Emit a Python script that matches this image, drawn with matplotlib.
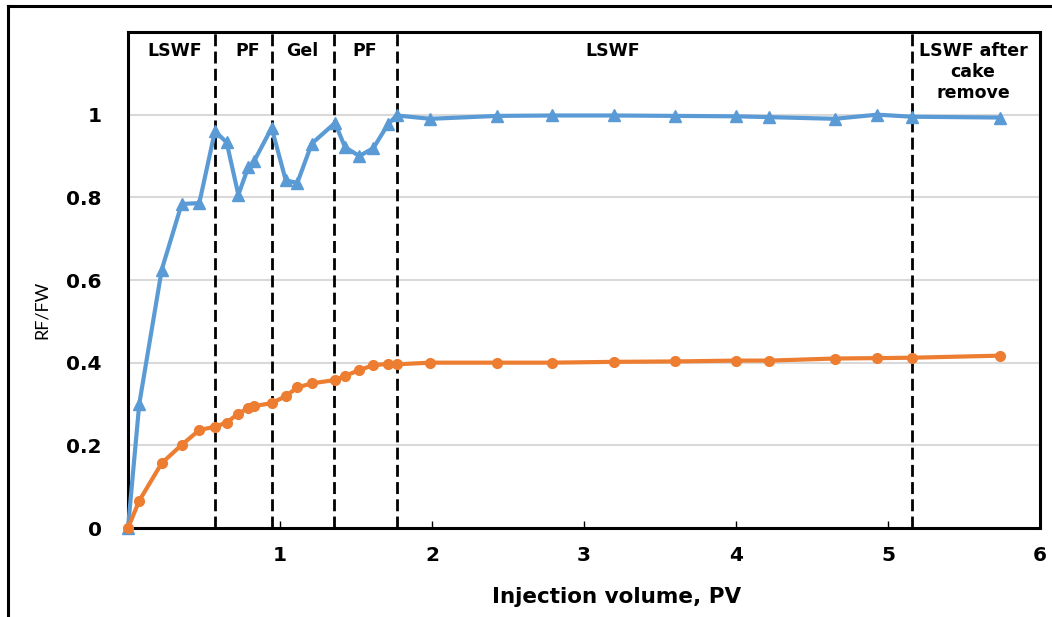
import matplotlib
matplotlib.use("Agg")
import matplotlib.pyplot as plt
from matplotlib.lines import Line2D

plt.rcParams['font.family'] = ['DejaVu Sans']

# ---- data ----
pv = [0, 0.074, 0.222, 0.353, 0.469, 0.572, 0.649, 0.726, 0.791, 0.829,
      0.945, 1.038, 1.114, 1.209, 1.362, 1.428, 1.522, 1.614, 1.713, 1.768,
      1.99, 2.43, 2.79, 3.2, 3.6, 4.0, 4.22, 4.65, 4.93, 5.16, 5.74]
rf_fw_blue = [0, 0.30, 0.625, 0.784, 0.786, 0.96, 0.933, 0.806, 0.873, 0.887,
              0.968, 0.841, 0.835, 0.93, 0.98, 0.921, 0.90, 0.919, 0.978, 0.998,
              0.99, 0.997, 0.998, 0.998, 0.997, 0.996, 0.994, 0.99, 1.0, 0.995, 0.993]
rf_fw_orange = [0, 0.066, 0.157, 0.201, 0.237, 0.245, 0.255, 0.277, 0.29, 0.295,
                0.302, 0.319, 0.34, 0.35, 0.358, 0.368, 0.382, 0.394, 0.397, 0.396,
                0.40, 0.40, 0.40, 0.402, 0.403, 0.405, 0.405, 0.41, 0.411, 0.412, 0.417]
stage_bounds = [0.572, 0.945, 1.357, 1.768, 5.158]
stage_labels = ["LSWF", "PF", "Gel", "PF", "LSWF", "LSWF after\ncake\nremove"]
stage_label_x = [0.31, 0.79, 1.145, 1.56, 3.19, 5.56]
x_ticks = [1, 2, 3, 4, 5, 6]
y_ticks = [0, 0.2, 0.4, 0.6, 0.8, 1.0]
y_ticklabels = ["0", "0.2", "0.4", "0.6", "0.8", "1"]

W, H = 1052, 617
fig = plt.figure(figsize=(W / 100, H / 100), dpi=100)
ax = fig.add_axes([128 / W, 1 - 528 / H, (1040 - 128) / W, (528 - 32) / H])

ax.set_xlim(0, 6)
ax.set_ylim(0, 1.2)

for yv in [0.2, 0.4, 0.6, 0.8, 1.0]:
    ax.axhline(yv, color="#d9d9d9", lw=1.5, zorder=0)

for xb in stage_bounds:
    ax.axvline(xb, color="black", lw=2, linestyle=(0, (4.3, 1.9)), zorder=1)

blue = "#5B9BD5"
orange = "#ED7D31"
ax.plot(pv, rf_fw_blue, color=blue, lw=3, marker="^", markersize=8,
        zorder=3, clip_on=False)
ax.plot(pv, rf_fw_orange, color=orange, lw=3, marker="o", markersize=7,
        zorder=4, clip_on=False)

for lab, xl in zip(stage_labels, stage_label_x):
    ax.text(xl, 1.175, lab, ha="center", va="top", fontsize=12.5,
            fontweight="bold", linespacing=1.2)

for s in ax.spines.values():
    s.set_linewidth(2.2)
    s.set_color("black")

ax.set_xticks(x_ticks)
ax.set_xticklabels([str(t) for t in x_ticks])
ax.set_yticks(y_ticks)
ax.set_yticklabels(y_ticklabels)
ax.tick_params(axis="x", direction="in", length=5, width=1, pad=13,
               labelsize=14.5)
ax.tick_params(axis="y", direction="in", length=0, pad=19, labelsize=14.5)
for lbl in ax.get_xticklabels() + ax.get_yticklabels():
    lbl.set_fontweight("bold")

fig.text(42 / W, 1 - 310 / H, "RF/FW", rotation=90, ha="center", va="center",
         fontsize=13, family=["Lato", "DejaVu Sans"])
fig.text(617 / W, 1 - 597 / H, "Injection volume, PV", ha="center",
         va="center", fontsize=15.5, fontweight="bold")

# outer frame
fig.add_artist(Line2D([8 / W, 8 / W], [-0.01, 1 - 6 / H], color="black",
                      lw=2.2, transform=fig.transFigure))
fig.add_artist(Line2D([8 / W, 1.01], [1 - 6 / H, 1 - 6 / H], color="black",
                      lw=2.2, transform=fig.transFigure))

fig.savefig("out.png", dpi=100, facecolor="white")
